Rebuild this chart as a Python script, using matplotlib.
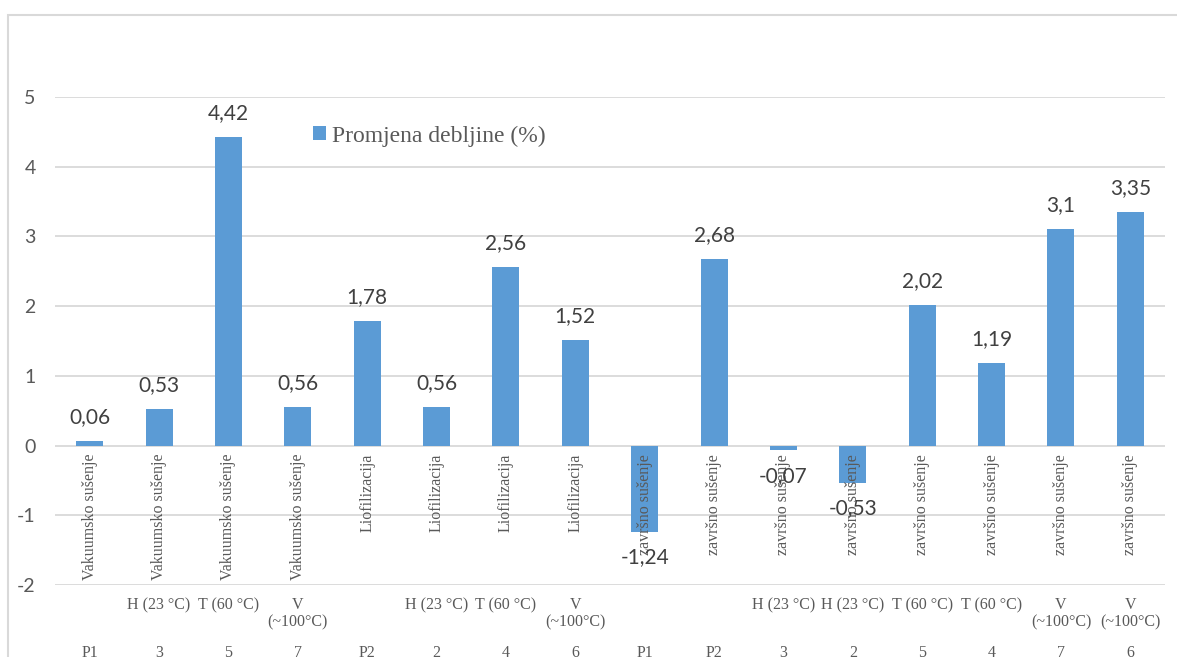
import numpy as np
import matplotlib.pyplot as plt
from matplotlib.patches import Rectangle
from matplotlib.transforms import blended_transform_factory

methods = ['Vakuumsko sušenje'] * 4 + ['Liofilizacija'] * 4 + ['završno sušenje'] * 8
conditions = ['', 'H (23 °C)', 'T (60 °C)', 'V\n(~100°C)',
              '', 'H (23 °C)', 'T (60 °C)', 'V\n(~100°C)',
              '', '', 'H (23 °C)', 'H (23 °C)', 'T (60 °C)', 'T (60 °C)',
              'V\n(~100°C)', 'V\n(~100°C)']
samples = ['P1', '3', '5', '7', 'P2', '2', '4', '6',
           'P1', 'P2', '3', '2', '5', '4', '7', '6']
values = [0.06, 0.53, 4.42, 0.56, 1.78, 0.56, 2.56, 1.52,
          -1.24, 2.68, -0.07, -0.53, 2.02, 1.19, 3.1, 3.35]

W, H = 1177, 657
fig = plt.figure(figsize=(W / 100, H / 100), dpi=100)
ax = fig.add_axes([55 / W, (H - 585) / H, (1165 - 55) / W, (585 - 97) / H])

grey = '#595959'
x = np.arange(len(values))
bars = ax.bar(x, values, width=0.39, color='#5B9BD5', label='Promjena debljine (%)', zorder=3)

ax.set_xlim(-0.5, len(values) - 0.5)
ax.set_ylim(-2, 5)
ax.set_yticks(range(-2, 6))
ax.set_yticklabels([str(v) for v in range(-2, 6)], fontfamily='Lato', fontsize=14, color=grey)
ax.tick_params(axis='y', length=0, pad=14)
ax.set_xticks([])
ax.grid(axis='y', color='#D9D9D9', lw=1.3, zorder=0)
for s in ax.spines.values():
    s.set_visible(False)

# data labels, Excel style decimal comma
for xi, v in zip(x, values):
    txt = ('%g' % v).replace('.', ',')
    if v >= 0:
        ax.annotate(txt, (xi, v), xytext=(0, 10), textcoords='offset points',
                    ha='center', va='bottom', fontfamily='Lato', fontsize=15, color='#404040', zorder=5)
    else:
        ax.annotate(txt, (xi, v), xytext=(0, -11), textcoords='offset points',
                    ha='center', va='top', fontfamily='Lato', fontsize=15, color='#404040', zorder=5)

# three-level category axis
tr = blended_transform_factory(ax.transData, fig.transFigure)
for xi, m, c, s in zip(x, methods, conditions, samples):
    ax.text(xi, (H - 454) / H, m, transform=tr, rotation=90, ha='center', va='top',
            fontfamily='Liberation Serif', fontsize=11.5, color=grey, zorder=4)
    if c:
        fig.text(0, (H - 597) / H, c, transform=tr, ha='center', va='top', linespacing=1.15,
                 fontfamily='Liberation Serif', fontsize=11.5, color=grey)
        fig.texts[-1].set_x(xi)
    fig.text(0, (H - 645) / H, s, transform=tr, ha='center', va='top',
             fontfamily='Liberation Serif', fontsize=11.5, color=grey)
    fig.texts[-1].set_x(xi)

ax.legend(loc='center left', bbox_to_anchor=(292 / W, (H - 136) / H), bbox_transform=fig.transFigure,
          frameon=False, handlelength=0.55, handleheight=0.55, handletextpad=0.25,
          prop={'family': 'Liberation Serif', 'size': 17}, labelcolor=grey)

# chart area border
fig.patches.append(Rectangle((8 / W, -0.1), 1.2, (H - 15) / H + 0.1, transform=fig.transFigure,
                             fill=False, edgecolor='#D9D9D9', lw=1.5))

fig.savefig('out.png', dpi=100)
